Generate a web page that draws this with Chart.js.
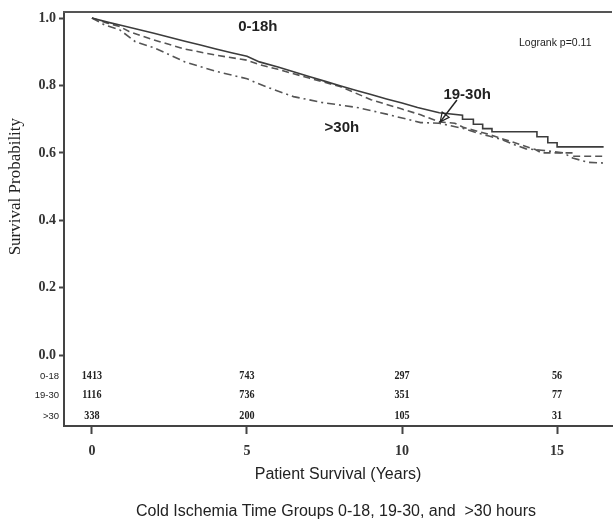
<!DOCTYPE html>
<html>
<head>
    <meta charset="UTF-8">
    <title>Patient Survival - Cold Ischemia Time Groups</title>
    <script src="https://cdn.jsdelivr.net/npm/chart.js@4.4.1/dist/chart.umd.min.js"></script>
    <style>
        body { margin: 0; background: #fff; }
        canvas { display: block; }
    </style>
</head>
<body>
<canvas id="chart-area" width="613" height="521"></canvas>
<script type="text/javascript">
    // groups and Kaplan-Meier curves
    var groups = ["0-18", "19-30", ">30"];
    var groupNotes = ["0-18h", "19-30h", ">30h"];

    var years018 = [0, 0.5, 1, 1.5, 2, 2.5, 3, 3.5, 4, 4.5, 5, 5.4, 6, 6.5, 7, 7.5, 8, 8.5, 9, 9.5, 10, 10.5, 11.2,
        11.95, 11.95, 12.3, 12.3, 12.6, 12.6, 12.9, 12.9, 14.35, 14.35, 14.7, 14.7, 15.0, 15.0, 16.5];
    var surv018 = [1.0, 0.988, 0.977, 0.966, 0.955, 0.943, 0.931, 0.920, 0.908, 0.897, 0.887, 0.870, 0.855, 0.841, 0.827, 0.813, 0.799, 0.786, 0.773, 0.760, 0.748, 0.735, 0.719,
        0.712, 0.700, 0.700, 0.685, 0.685, 0.672, 0.672, 0.663, 0.663, 0.648, 0.648, 0.630, 0.630, 0.618, 0.618];

    var years1930 = [0, 0.5, 0.9, 1.2, 2, 3, 4, 5, 5.4, 6, 7, 8, 9, 10, 10.6, 11.2, 11.7, 12.0, 12.8, 13.3, 13.8, 14.3, 14.5, 15.5, 15.5, 16.5];
    var surv1930 = [1.0, 0.985, 0.975, 0.960, 0.935, 0.908, 0.890, 0.875, 0.862, 0.848, 0.822, 0.797, 0.758, 0.730, 0.713, 0.692, 0.688, 0.675, 0.655, 0.640, 0.625, 0.610, 0.600, 0.600, 0.590, 0.590];

    var years30 = [0, 0.4, 0.9, 1.4, 2, 3, 4, 5, 5.3, 5.8, 6.5, 7.4, 8.6, 9.5, 10.6, 11.2, 12.0, 12.4, 12.8, 13.2, 13.6, 14.0, 14.5, 15.2, 15.5, 16.0, 16.5];
    var surv30 = [1.0, 0.980, 0.965, 0.930, 0.912, 0.870, 0.842, 0.820, 0.808, 0.790, 0.767, 0.750, 0.734, 0.715, 0.690, 0.688, 0.672, 0.660, 0.650, 0.640, 0.625, 0.612, 0.608, 0.600, 0.585, 0.572, 0.570];

    // number at risk table
    var riskYears = [0, 5, 10, 15];
    var risk018 = [1413, 743, 297, 56];
    var risk1930 = [1116, 736, 351, 77];
    var risk30 = [338, 200, 105, 31];

    var xTicks = [0, 5, 10, 15];
    var yTicks = [0, 0.2, 0.4, 0.6, 0.8, 1.0];

    function toPoints(xs, ys) {
        var pts = [];
        for (var i = 0; i < xs.length; i++) pts.push({ x: xs[i], y: ys[i] });
        return pts;
    }

    // narrow text, like the condensed face of the original
    function squeezed(ctx, text, x, y, k) {
        ctx.save();
        ctx.translate(x, y);
        ctx.scale(k, 1);
        ctx.fillText(text, 0, 0);
        ctx.restore();
    }

    var decor = {
        id: 'decor',
        afterDraw: function (chart) {
            var ctx = chart.ctx;
            var xs = chart.scales.x, ys = chart.scales.y;
            var area = chart.chartArea;
            ctx.save();

            // top frame line
            ctx.strokeStyle = '#555';
            ctx.lineWidth = 2;
            ctx.beginPath();
            ctx.moveTo(area.left - 1, area.top);
            ctx.lineTo(area.right, area.top);
            ctx.stroke();

            ctx.fillStyle = '#222';

            // y axis title
            ctx.save();
            ctx.translate(16, ys.getPixelForValue(0.5));
            ctx.rotate(-Math.PI / 2);
            ctx.font = '17px "Liberation Serif"';
            ctx.textAlign = 'center';
            ctx.textBaseline = 'middle';
            ctx.fillText('Survival Probability', 0, 0);
            ctx.restore();

            // x axis title and caption
            var cx = (area.left + area.right) / 2;
            ctx.textAlign = 'center';
            ctx.textBaseline = 'middle';
            ctx.font = '16px "Liberation Sans"';
            ctx.fillText('Patient Survival (Years)', cx, area.bottom + 49);
            ctx.font = '16px "Liberation Sans"';
            ctx.fillText('Cold Ischemia Time Groups 0-18, 19-30, and  >30 hours', cx - 2, area.bottom + 86);

            // number at risk rows
            var rowLevels = [-0.062, -0.118, -0.180];
            var rows = [risk018, risk1930, risk30];
            for (var r = 0; r < rows.length; r++) {
                var py = ys.getPixelForValue(rowLevels[r]);
                ctx.font = '9.5px "Liberation Sans"';
                ctx.textAlign = 'right';
                ctx.fillText(groups[r], area.left - 5, py);
                ctx.font = 'bold 13px "Liberation Serif"';
                ctx.textAlign = 'center';
                for (var j = 0; j < riskYears.length; j++) {
                    squeezed(ctx, String(rows[r][j]), xs.getPixelForValue(riskYears[j]), py, 0.78);
                }
            }

            // curve labels
            var notePos = [[5.35, 0.973], [12.1, 0.772], [8.06, 0.675]];
            ctx.font = 'bold 15px "Liberation Sans"';
            ctx.textAlign = 'center';
            for (var k = 0; k < groupNotes.length; k++) {
                ctx.fillText(groupNotes[k], xs.getPixelForValue(notePos[k][0]), ys.getPixelForValue(notePos[k][1]));
            }
            ctx.font = '10.5px "Liberation Sans"';
            ctx.fillText('Logrank p=0.11', xs.getPixelForValue(14.94), ys.getPixelForValue(0.926));

            // arrow to 19-30h curve
            var x0 = xs.getPixelForValue(11.77), y0 = ys.getPixelForValue(0.757);
            var x1 = xs.getPixelForValue(11.23), y1 = ys.getPixelForValue(0.692);
            var ang = Math.atan2(y1 - y0, x1 - x0);
            ctx.strokeStyle = '#222';
            ctx.lineWidth = 1.5;
            ctx.beginPath();
            ctx.moveTo(x0, y0);
            ctx.lineTo(x1, y1);
            ctx.stroke();
            ctx.lineWidth = 1.2;
            ctx.beginPath();
            ctx.moveTo(x1, y1);
            ctx.lineTo(x1 - 10 * Math.cos(ang - 0.45), y1 - 10 * Math.sin(ang - 0.45));
            ctx.lineTo(x1 - 10 * Math.cos(ang + 0.45), y1 - 10 * Math.sin(ang + 0.45));
            ctx.closePath();
            ctx.stroke();

            ctx.restore();
        }
    };

    window.onload = function () {
        var config = {
            type: 'line',
            data: {
                datasets: [{
                    label: groupNotes[0],
                    data: toPoints(years018, surv018),
                    borderColor: '#3c3c3c',
                    borderWidth: 1.6
                }, {
                    label: groupNotes[1],
                    data: toPoints(years1930, surv1930),
                    borderColor: '#555',
                    borderWidth: 1.6,
                    borderDash: [7, 4]
                }, {
                    label: groupNotes[2],
                    data: toPoints(years30, surv30),
                    borderColor: '#555',
                    borderWidth: 1.6,
                    borderDash: [8, 4, 2, 4]
                }]
            },
            options: {
                responsive: false,
                animation: false,
                layout: { padding: { top: 12, right: 1, left: 0, bottom: 0 } },
                elements: { point: { radius: 0 }, line: { tension: 0 } },
                plugins: { legend: { display: false }, tooltip: { enabled: false } },
                scales: {
                    x: {
                        type: 'linear',
                        min: -0.9,
                        max: 16.77,
                        afterBuildTicks: function (s) { s.ticks = xTicks.map(function (v) { return { value: v }; }); },
                        afterFit: function (s) { s.height = 95; },
                        grid: { drawOnChartArea: false, drawTicks: true, tickLength: 8, tickWidth: 2, tickColor: '#444' },
                        border: { display: true, color: '#444', width: 2 },
                        ticks: {
                            color: '#333',
                            padding: 9,
                            maxRotation: 0,
                            font: { family: '"Liberation Serif"', size: 14, weight: 'bold' }
                        }
                    },
                    y: {
                        min: -0.21,
                        max: 1.018,
                        afterBuildTicks: function (s) { s.ticks = yTicks.map(function (v) { return { value: v }; }); },
                        afterFit: function (s) { s.width = 64; },
                        grid: { drawOnChartArea: false, drawTicks: true, tickLength: 5, tickWidth: 2, tickColor: '#444' },
                        border: { display: true, color: '#444', width: 2 },
                        ticks: {
                            color: '#333',
                            padding: 3,
                            font: { family: '"Liberation Serif"', size: 14, weight: 'bold' },
                            callback: function (v) { return Number(v).toFixed(1); }
                        }
                    }
                }
            },
            plugins: [decor]
        };

        var ctx = document.getElementById("chart-area").getContext("2d");
        window.kmChart = new Chart(ctx, config);
    };
</script>
</body>
</html>
